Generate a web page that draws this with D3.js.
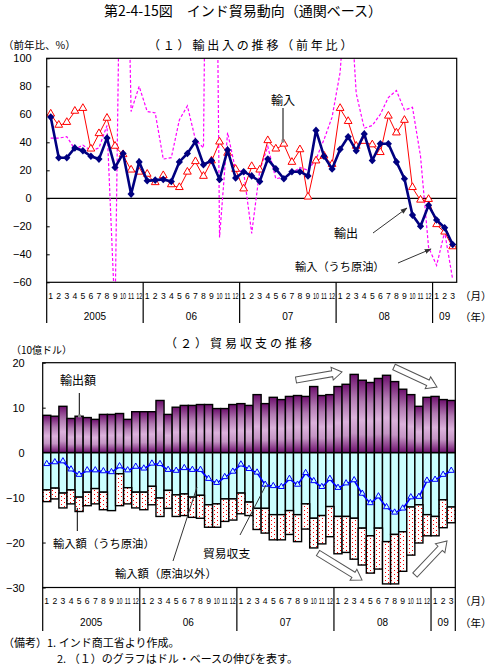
<!DOCTYPE html>
<html><head><meta charset="utf-8">
<script src="https://cdn.jsdelivr.net/npm/d3@7"></script>
<style>body{margin:0;background:#fff}svg{display:block}text{font-family:"Noto Sans CJK JP","Noto Sans",sans-serif;fill:#000}</style>
</head><body><svg id="c" width="492" height="668"></svg>
<script>
// ---------- data ----------
const yearLabels = ["2005","06","07","08","09"];
const monthsPerYear = [12,12,12,12,3];
const topTicks = [100,80,60,40,20,0,-20,-40,-60];
const bottomTicks = [20,10,0,-10,-20,-30];

// (1) year-on-year growth, %
const exportsYoY = [58,29,29,36,34,30,28,43,22,32,3,26,
  12.5,13,13.5,12,26,32,40.5,24,27,13.5,34.5,14.5,
  19,16,12,28,21,14,19,19,16,48.5,30,21,
  35,44,34,46,27,39,39,26,14,-12,-20,-5,
  -15.5,-21,-33];
const importsYoY = [60,52,54,62,64,35,46,57,37,31,20,18.5,
  17,11,16,9.5,7.5,18.5,26,15.5,26.5,40,32,20.5,
  6.5,22.5,20,41,35,38.5,25.5,34.5,0.7,26.5,30,24,
  64,54.7,37,40.5,38,32.5,58.5,46.5,55.5,7.5,-1.5,-1,
  -19,-24.3,-34.8];
const crudeYoY = [43,43,44,35,38,34,36,52,-85,350,62,80,
  62,61,28,29,56,66,42,36,600,-28,47,20,
  19,-25,20,37,14,15,18,22,20,28,42,58,
  90,170,75,50,52,60,72,77,63,65,30,-35,
  -48,-24,-58];

// (2) trade, billion USD
const exportValue = [8.3,8.1,10.3,7.6,8.1,7.8,7.4,8.5,8.5,8.7,7.4,9.1,
  9.1,9.1,11.6,8.5,10.1,10.5,10.5,10.7,10.7,9.8,9.8,10.7,
  10.9,10.5,12.9,10.9,12.3,11.8,12.5,12.7,12.5,14.7,12.7,12.9,
  14.7,15.2,17.4,16.1,15.6,16.5,17.2,15.8,14.1,12.9,10.3,12.3,
  12.5,11.8,11.6];
const importNonOil = [8.3,7.9,9.0,8.3,9.9,8.8,8.0,8.8,12.9,4.7,7.8,8.8,
  8.8,7.5,10.1,8.4,9.4,9.2,9.9,9.5,11.6,11.4,10.3,10.3,
  9.0,11.0,12.4,12.4,13.8,13.8,12.9,13.8,11.4,14.6,14.0,12.0,
  14.2,14.2,14.6,16.8,18.5,16.8,19.8,18.2,17.6,12.1,11.6,13.8,
  14.2,10.5,12.1];
const importOil = [2.6,2.4,3.3,3.1,3.2,3.0,3.4,3.9,0.0,7.1,3.6,3.5,
  3.9,4.1,4.1,4.0,4.8,4.8,4.5,5.1,5.0,5.2,5.0,4.7,
  4.6,3.0,4.7,5.5,5.6,5.6,5.3,6.0,5.6,6.6,6.3,6.7,
  8.3,8.0,9.1,8.2,8.3,9.1,9.4,11.0,8.8,10.7,8.5,4.7,
  4.3,6.2,3.5];
const tradeBalance = [-2.6,-2.2,-2.0,-3.8,-5.0,-4.0,-4.0,-4.2,-4.4,-3.1,-4.0,-3.2,
  -3.6,-2.5,-2.6,-3.9,-4.1,-3.5,-3.9,-3.9,-5.9,-6.8,-5.5,-4.3,
  -2.7,-3.7,-4.5,-7.2,-7.5,-7.7,-5.9,-7.2,-4.6,-6.4,-7.7,-5.9,
  -7.9,-6.9,-6.2,-9.2,-11.3,-9.8,-12.2,-13.4,-12.5,-10.0,-9.9,-6.3,
  -6.1,-5.0,-4.1];

const monthLabels = [];
monthsPerYear.forEach(c => { for (let m = 1; m <= c; m++) monthLabels.push(String(m)); });
const n = monthLabels.length;

// ---------- setup ----------
const svg = d3.select("#c");
const defs = svg.append("defs");
const grad = defs.append("linearGradient").attr("id","gExp").attr("x1",0).attr("y1",0).attr("x2",0).attr("y2",1);
grad.selectAll("stop").data([[0,"#6c0e6c"],[0.3,"#b27ab2"],[0.55,"#dcb2dc"],[0.75,"#c595c5"],[1,"#6c0e6c"]])
  .join("stop").attr("offset",d=>d[0]).attr("stop-color",d=>d[1]);
const pat = defs.append("pattern").attr("id","pDot").attr("width",6).attr("height",4).attr("patternUnits","userSpaceOnUse");
pat.append("rect").attr("width",6).attr("height",4).attr("fill","#fff");
pat.append("rect").attr("x",1).attr("y",0).attr("width",1).attr("height",1).attr("fill","#ff0000");
pat.append("rect").attr("x",4).attr("y",2).attr("width",1).attr("height",1).attr("fill","#ff0000");
const mk = defs.append("marker").attr("id","ah").attr("viewBox","0 0 10 10").attr("refX",9).attr("refY",5)
  .attr("markerWidth",7).attr("markerHeight",7).attr("orient","auto");
mk.append("path").attr("d","M0,1.5L10,5L0,8.5Z").attr("fill","#333");

const numFont = "'Liberation Sans Narrow','Liberation Sans',sans-serif";

// title
svg.append("text").attr("x",243).attr("y",16).attr("text-anchor","middle").attr("font-size",14)
  .text("第2-4-15図　インド貿易動向（通関ベース）");

function drawXLabels(xs, sepTop, sepBot, monthY, yearY, rightSep) {
  const g = svg.append("g");
  g.selectAll("text.m").data(monthLabels).join("text").attr("class","m")
    .attr("x",(d,i)=>xs(i)+xs.bandwidth()/2).attr("y",monthY)
    .attr("text-anchor","middle").attr("font-size",8.6).style("font-family",numFont)
    .each(function(d){ if (d.length > 1) d3.select(this).attr("textLength",6.0).attr("lengthAdjust","spacingAndGlyphs"); })
    .text(d=>d);
  const bounds = [0];
  monthsPerYear.forEach(c => bounds.push(bounds[bounds.length-1] + c));
  const r1 = xs.range()[1];
  bounds.forEach((b,k) => {
    if (k === bounds.length-1 && !rightSep) return;
    const x = b < n ? xs(b) : r1;
    g.append("line").attr("x1",x).attr("x2",x).attr("y1",sepTop).attr("y2",sepBot).attr("stroke","#000").attr("stroke-width",1.2);
  });
  yearLabels.forEach((y,k) => {
    const a = xs(bounds[k]), b = bounds[k+1] < n ? xs(bounds[k+1]) : r1;
    g.append("text").attr("x",(a+b)/2).attr("y",yearY).attr("text-anchor","middle").attr("font-size",10)
      .style("font-family",numFont).text(y);
  });
  g.append("text").attr("x",460).attr("y",monthY+1).attr("font-size",10.5).text("（月）");
  g.append("text").attr("x",460).attr("y",yearY+1).attr("font-size",10.5).text("（年）");
}

// ---------- (1) ----------
const T = {left:46.7, right:456.7, top:58.3, bottom:282.3};
const xT = d3.scaleBand().domain(d3.range(n)).range([T.left,T.right]);
const cxT = i => xT(i) + xT.bandwidth()/2;
const yT = d3.scaleLinear().domain([-60,100]).range([T.bottom,T.top]);

svg.append("text").attr("x",148).attr("y",50).attr("font-size",12).attr("letter-spacing",2.8).text("（１）輸出入の推移（前年比）");
svg.append("text").attr("x",3).attr("y",49).attr("font-size",10.5).text("（前年比、%）");

defs.append("clipPath").attr("id","clipT").append("rect")
  .attr("x",T.left).attr("y",T.top).attr("width",T.right-T.left).attr("height",T.bottom-T.top);

const axT = svg.append("g").attr("transform",`translate(${T.left},0)`)
  .call(d3.axisLeft(yT).tickValues(topTicks).tickSizeInner(-3).tickSizeOuter(0).tickPadding(15));
axT.select(".domain").remove();
axT.selectAll("text").attr("font-size",11).style("font-family","'Liberation Sans',sans-serif");
axT.selectAll("line").attr("stroke","#000");

svg.append("line").attr("x1",T.left).attr("x2",T.right).attr("y1",yT(0)).attr("y2",yT(0)).attr("stroke","#000").attr("stroke-width",1.2);

const line = d3.line().x((d,i)=>cxT(i)).y(d=>yT(d));
const gT = svg.append("g").attr("clip-path","url(#clipT)");
gT.append("path").datum(crudeYoY).attr("d",line).attr("fill","none").attr("stroke","#ff00ff").attr("stroke-width",1.2).attr("stroke-dasharray","3,2");
gT.append("path").datum(importsYoY).attr("d",line).attr("fill","none").attr("stroke","#ff0000").attr("stroke-width",1);
gT.selectAll("path.tri").data(importsYoY).join("path").attr("class","tri")
  .attr("transform",(d,i)=>`translate(${cxT(i)},${yT(d)-0.5})`)
  .attr("d",d3.symbol(d3.symbolTriangle,26)).attr("fill","#fff").attr("stroke","#ff0000").attr("stroke-width",1);
gT.append("path").datum(exportsYoY).attr("d",line).attr("fill","none").attr("stroke","#000080").attr("stroke-width",2.6);
gT.selectAll("path.dia").data(exportsYoY).join("path").attr("class","dia")
  .attr("transform",(d,i)=>`translate(${cxT(i)},${yT(d)})`)
  .attr("d","M0,-3.8L3.6,0L0,3.8L-3.6,0Z").attr("fill","#000080");

svg.append("rect").attr("x",T.left).attr("y",T.top).attr("width",T.right-T.left).attr("height",T.bottom-T.top)
  .attr("fill","none").attr("stroke","#000").attr("stroke-width",1.2);
drawXLabels(xT, T.bottom, 323, 299, 320, false);

// annotations (1)
svg.append("text").attr("x",283).attr("y",105).attr("text-anchor","middle").attr("font-size",12).text("輸入");
svg.append("line").attr("x1",283).attr("x2",283).attr("y1",108).attr("y2",141).attr("stroke","#000");
svg.append("rect").attr("x",281.5).attr("y",139.5).attr("width",3).attr("height",3).attr("fill","#888");
svg.append("text").attr("x",334).attr("y",238).attr("font-size",12).text("輸出");
svg.append("line").attr("x1",373).attr("y1",233).attr("x2",407).attr("y2",208).attr("stroke","#333").attr("marker-end","url(#ah)");
svg.append("text").attr("x",295).attr("y",271).attr("font-size",11.2).text("輸入（うち原油）");
svg.append("line").attr("x1",398).attr("y1",263).attr("x2",431).attr("y2",249).attr("stroke","#333").attr("marker-end","url(#ah)");

// ---------- (2) ----------
const B = {left:42.7, right:455.3, top:362.7, bottom:587.5};
const xB = d3.scaleBand().domain(d3.range(n)).range([B.left,B.right]);
const cxB = i => xB(i) + xB.bandwidth()/2;
const yB = d3.scaleLinear().domain([-30,20]).range([B.bottom,B.top]);

svg.append("text").attr("x",165).attr("y",348).attr("font-size",12).attr("letter-spacing",3).text("（２）貿易収支の推移");
svg.append("text").attr("x",11).attr("y",354).attr("font-size",10).text("（10億ドル）");

const axB = svg.append("g").attr("transform",`translate(${B.left},0)`)
  .call(d3.axisLeft(yB).tickValues(bottomTicks).tickSizeInner(-3).tickSizeOuter(0).tickPadding(18));
axB.select(".domain").remove();
axB.selectAll("text").attr("font-size",11).style("font-family","'Liberation Sans',sans-serif");

const bw = xB.bandwidth();
const gB = svg.append("g");
gB.selectAll("rect.ex").data(exportValue).join("rect").attr("class","ex")
  .attr("x",(d,i)=>xB(i)).attr("width",bw).attr("y",d=>yB(d)).attr("height",d=>yB(0)-yB(d))
  .attr("fill","url(#gExp)").attr("stroke","#000").attr("stroke-width",1.4);
gB.selectAll("rect.no").data(importNonOil).join("rect").attr("class","no")
  .attr("x",(d,i)=>xB(i)).attr("width",bw).attr("y",yB(0)).attr("height",d=>yB(-d)-yB(0))
  .attr("fill","#ccffff").attr("stroke","#000").attr("stroke-width",1.4);
gB.selectAll("rect.oil").data(importOil).join("rect").attr("class","oil")
  .attr("x",(d,i)=>xB(i)).attr("width",bw).attr("y",(d,i)=>yB(-importNonOil[i]))
  .attr("height",(d,i)=>yB(-importNonOil[i]-d)-yB(-importNonOil[i]))
  .attr("fill","url(#pDot)").attr("stroke","#000").attr("stroke-width",1.4);
svg.append("line").attr("x1",B.left).attr("x2",B.right).attr("y1",yB(0)).attr("y2",yB(0)).attr("stroke","#000").attr("stroke-width",1.4);

const lineB = d3.line().x((d,i)=>cxB(i)).y(d=>yB(d));
svg.append("path").datum(tradeBalance).attr("d",lineB).attr("fill","none").attr("stroke","#0000ff").attr("stroke-width",1.6);
svg.selectAll("path.btri").data(tradeBalance).join("path").attr("class","btri")
  .attr("transform",(d,i)=>`translate(${cxB(i)},${yB(d)-0.5})`)
  .attr("d",d3.symbol(d3.symbolTriangle,16)).attr("fill","#ccffff").attr("stroke","#0000ff").attr("stroke-width",1);

svg.append("rect").attr("x",B.left).attr("y",B.top).attr("width",B.right-B.left).attr("height",B.bottom-B.top)
  .attr("fill","none").attr("stroke","#000").attr("stroke-width",1.2);
drawXLabels(xB, B.bottom, 631, 604, 626, true);

// annotations (2)
svg.append("text").attr("x",60).attr("y",385).attr("font-size",12).text("輸出額");
svg.append("line").attr("x1",79.3).attr("x2",79.3).attr("y1",393).attr("y2",416).attr("stroke","#000");
svg.append("rect").attr("x",78).attr("y",414.5).attr("width",3).attr("height",3).attr("fill","#888");
svg.append("text").attr("x",53).attr("y",548).attr("font-size",11.3).text("輸入額（うち原油）");
svg.append("line").attr("x1",77.3).attr("x2",77.3).attr("y1",531).attr("y2",508).attr("stroke","#000");
svg.append("text").attr("x",115).attr("y",578).attr("font-size",11.3).text("輸入額（原油以外）");
svg.append("line").attr("x1",173).attr("y1",561).attr("x2",197).attr("y2",487).attr("stroke","#333");
svg.append("text").attr("x",203).attr("y",558).attr("font-size",11.8).text("貿易収支");
svg.append("line").attr("x1",240).attr("y1",535).attr("x2",266).attr("y2",485).attr("stroke","#333");

function blockArrow(x1,y1,x2,y2){
  const L = Math.hypot(x2-x1,y2-y1), a = Math.atan2(y2-y1,x2-x1)*180/Math.PI;
  const hl = 10, sw = 3, hw = 6.5;
  const pts = [[0,-sw],[L-hl,-sw],[L-hl,-hw],[L,0],[L-hl,hw],[L-hl,sw],[0,sw]];
  svg.append("polygon").attr("points",pts.map(p=>p.join(",")).join(" "))
    .attr("transform",`translate(${x1},${y1}) rotate(${a})`)
    .attr("fill","#fff").attr("stroke","#555").attr("stroke-width",1);
}
blockArrow(296,380,342,372);
blockArrow(394,367,437,387);
blockArrow(318,553,362,580);
blockArrow(415,575,447,541);

// notes
svg.append("text").attr("x",3).attr("y",647).attr("font-size",11).text("（備考）1. インド商工省より作成。");
svg.append("text").attr("x",57).attr("y",663).attr("font-size",11).text("2. （１）のグラフはドル・ベースの伸びを表す。");
</script></body></html>
